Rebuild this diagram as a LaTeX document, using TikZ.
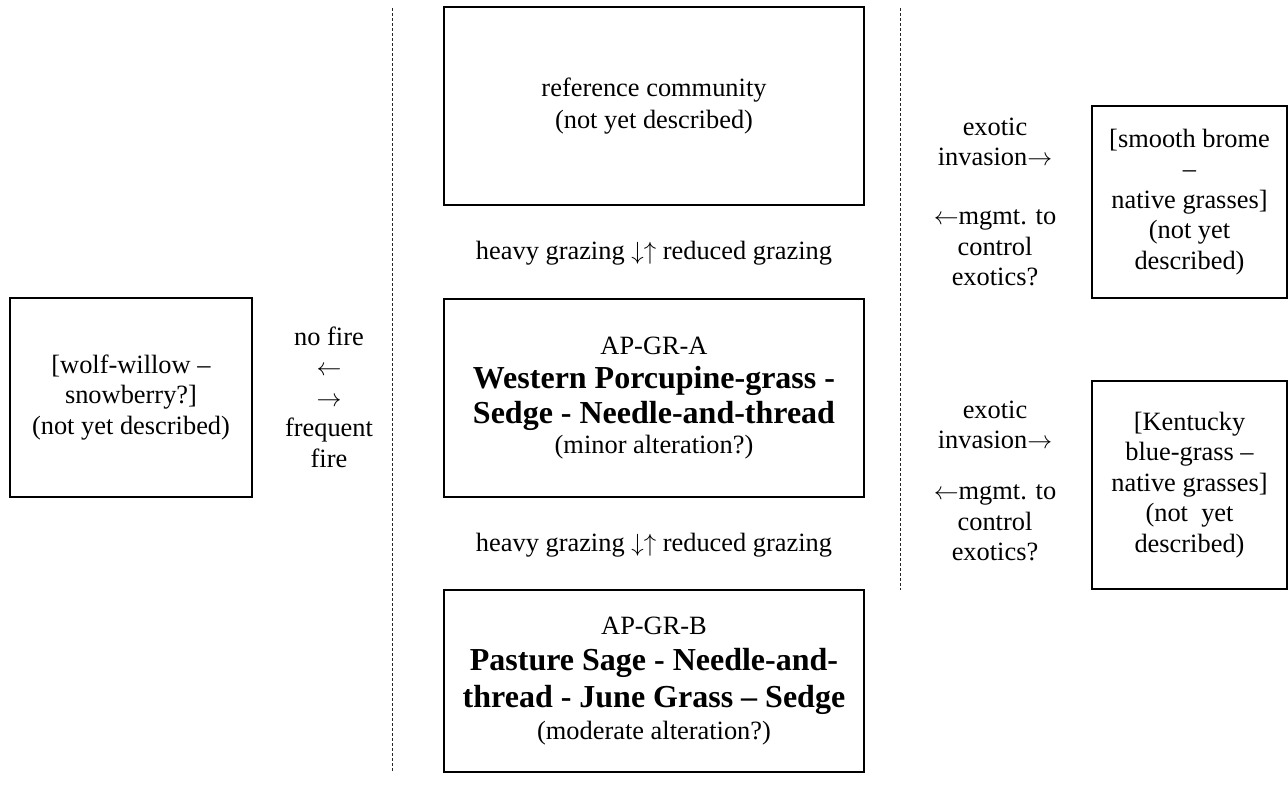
\documentclass[tikz,border=0pt]{standalone}
\usepackage{fontspec}
\setmainfont{Liberation Serif}
\newcommand{\bigb}{\bfseries\fontsize{32}{36}\selectfont}
\tikzset{
  box/.style={draw, line width=2pt, align=center, inner sep=0pt},
  lbl/.style={align=center, inner sep=0pt},
  divider/.style={draw=black!85, line width=1pt, dash pattern=on 3pt off 2pt},
}
\begin{document}
\begin{tikzpicture}[x=1pt,y=-1pt,font=\fontsize{26.4}{30.5}\selectfont]
\useasboundingbox (0,0) rectangle (1288,788);
% dividers
\coordinate (d1t) at (392,8);
\coordinate (d1b) at (392,772);
\coordinate (d2t) at (900,8);
\coordinate (d2b) at (900,590);
\draw[divider] (d1t) -- (d1b);
\draw[divider] (d2t) -- (d2b);
% boxes
\node[box, minimum width=242, minimum height=199] (wolf) at (131,397.5)
  {[wolf-willow --\\snowberry?]\\(not yet described)};
\node[box, minimum width=420, minimum height=198] (ref) at (654,106)
  {reference community\\[1pt](not yet described)};
\node[box, minimum width=420, minimum height=198] (apa) at (654,398)
  {AP-GR-A\\[4pt]{\bigb Western Porcupine-grass -}\\[4pt]{\bigb Sedge - Needle-and-thread}\\[0pt](minor alteration?)};
\node[box, minimum width=420, minimum height=182] (apb) at (654,681)
  {AP-GR-B\\[6pt]{\bigb Pasture Sage - Needle-and-}\\[6pt]{\bigb thread - June Grass -- Sedge}\\[2pt](moderate alteration?)};
\node[box, minimum width=195, minimum height=192] (brome) at (1189.5,202)
  {[smooth brome\\--\\native grasses]\\(not yet\\described)};
\node[box, minimum width=195, minimum height=208] (kent) at (1189.5,485)
  {[Kentucky\\blue-grass --\\native grasses]\\(not\ \ yet\\described)};
% labels
\node[lbl] (fire) at (329,397)
  {no fire\\$\leftarrow$\\$\rightarrow$\\frequent\\fire};
\node[lbl] (g1) at (654,253) {heavy grazing $\downarrow\uparrow$ reduced grazing};
\node[lbl] (g2) at (654,545) {heavy grazing $\downarrow\uparrow$ reduced grazing};
\node[lbl] (inv1) at (995,142) {exotic\\invasion$\rightarrow$};
\node[lbl] (mg1) at (995,248) {$\leftarrow$mgmt. to\\control\\exotics?};
\node[lbl] (inv2) at (995,425) {exotic\\invasion$\rightarrow$};
\node[lbl] (mg2) at (995,523) {$\leftarrow$mgmt. to\\control\\exotics?};
\end{tikzpicture}
\end{document}
